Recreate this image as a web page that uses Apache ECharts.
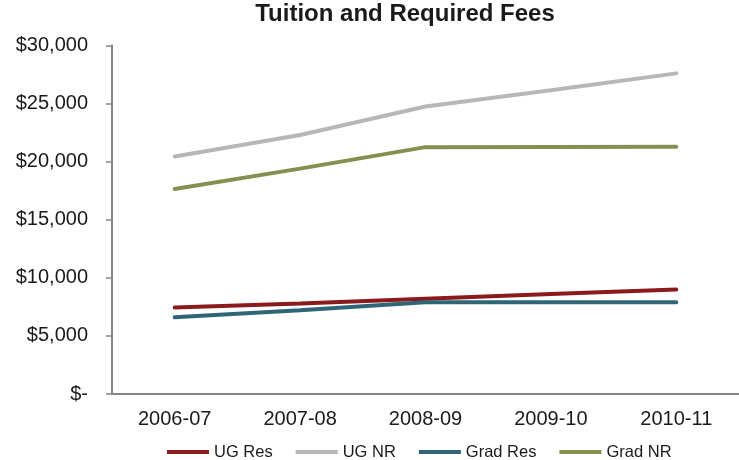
<!DOCTYPE html>
<html><head><meta charset="utf-8">
<script src="https://cdn.jsdelivr.net/npm/echarts@6/dist/echarts.min.js"></script>
<style>html,body{margin:0;padding:0;background:#fff}#c{width:739px;height:460px}</style>
</head><body><div id="c"></div>
<script>
const categories = ['2006-07','2007-08','2008-09','2009-10','2010-11'];
const ugRes   = [7450, 7800, 8200, 8600, 9000];
const ugNR    = [20450, 22300, 24750, 26150, 27600];
const gradRes = [6600, 7200, 7900, 7900, 7900];
const gradNR  = [17650, 19400, 21250, 21270, 21280];
const seriesNames = ['UG Res','UG NR','Grad Res','Grad NR'];
const colors = ['#8b1a1c','#b7b7b7','#2f6577','#849050'];
const yTicks = [0, 5000, 10000, 15000, 20000, 25000, 30000];

const font = 'Liberation Sans, Arial, sans-serif';
const chart = echarts.init(document.getElementById('c'));
const mk = (name, data, i) => ({
  name, type: 'line', data, symbol: 'none', smooth: false,
  lineStyle: { width: 4, color: colors[i], cap: 'round' },
  itemStyle: { color: colors[i] }
});
chart.setOption({
  animation: false,
  title: {
    text: 'Tuition and Required Fees', left: 400, textAlign: 'center', top: -3,
    textStyle: { fontFamily: font, fontSize: 24, fontWeight: 'bold', color: '#1a1a1a' }
  },
  legend: {
    left: 167, top: 443.5, padding: 0, itemWidth: 42, itemHeight: 4, itemGap: 23, icon: 'rect',
    textStyle: { fontFamily: font, fontSize: 16.5, color: '#1a1a1a' },
    data: seriesNames
  },
  grid: { left: 112, right: -4, top: 45.5, bottom: 66, containLabel: false },
  xAxis: {
    type: 'category', data: categories, boundaryGap: true,
    axisLine: { lineStyle: { color: '#868686', width: 2 } },
    axisTick: { show: false },
    axisLabel: { fontFamily: font, fontSize: 20, color: '#1a1a1a', margin: 15 }
  },
  yAxis: {
    type: 'value', min: yTicks[0], max: yTicks[yTicks.length-1], interval: 5000,
    axisLine: { show: true, lineStyle: { color: '#868686', width: 2 } },
    axisTick: { show: true, length: 6, lineStyle: { color: '#868686', width: 1.5 } },
    splitLine: { show: false },
    axisLabel: {
      fontFamily: font, fontSize: 20, color: '#1a1a1a', margin: 24,
      formatter: v => v === 0 ? '$-' : '$' + v.toLocaleString('en-US')
    }
  },
  series: [mk('UG Res', ugRes, 0), mk('UG NR', ugNR, 1), mk('Grad Res', gradRes, 2), mk('Grad NR', gradNR, 3)]
});
</script></body></html>
